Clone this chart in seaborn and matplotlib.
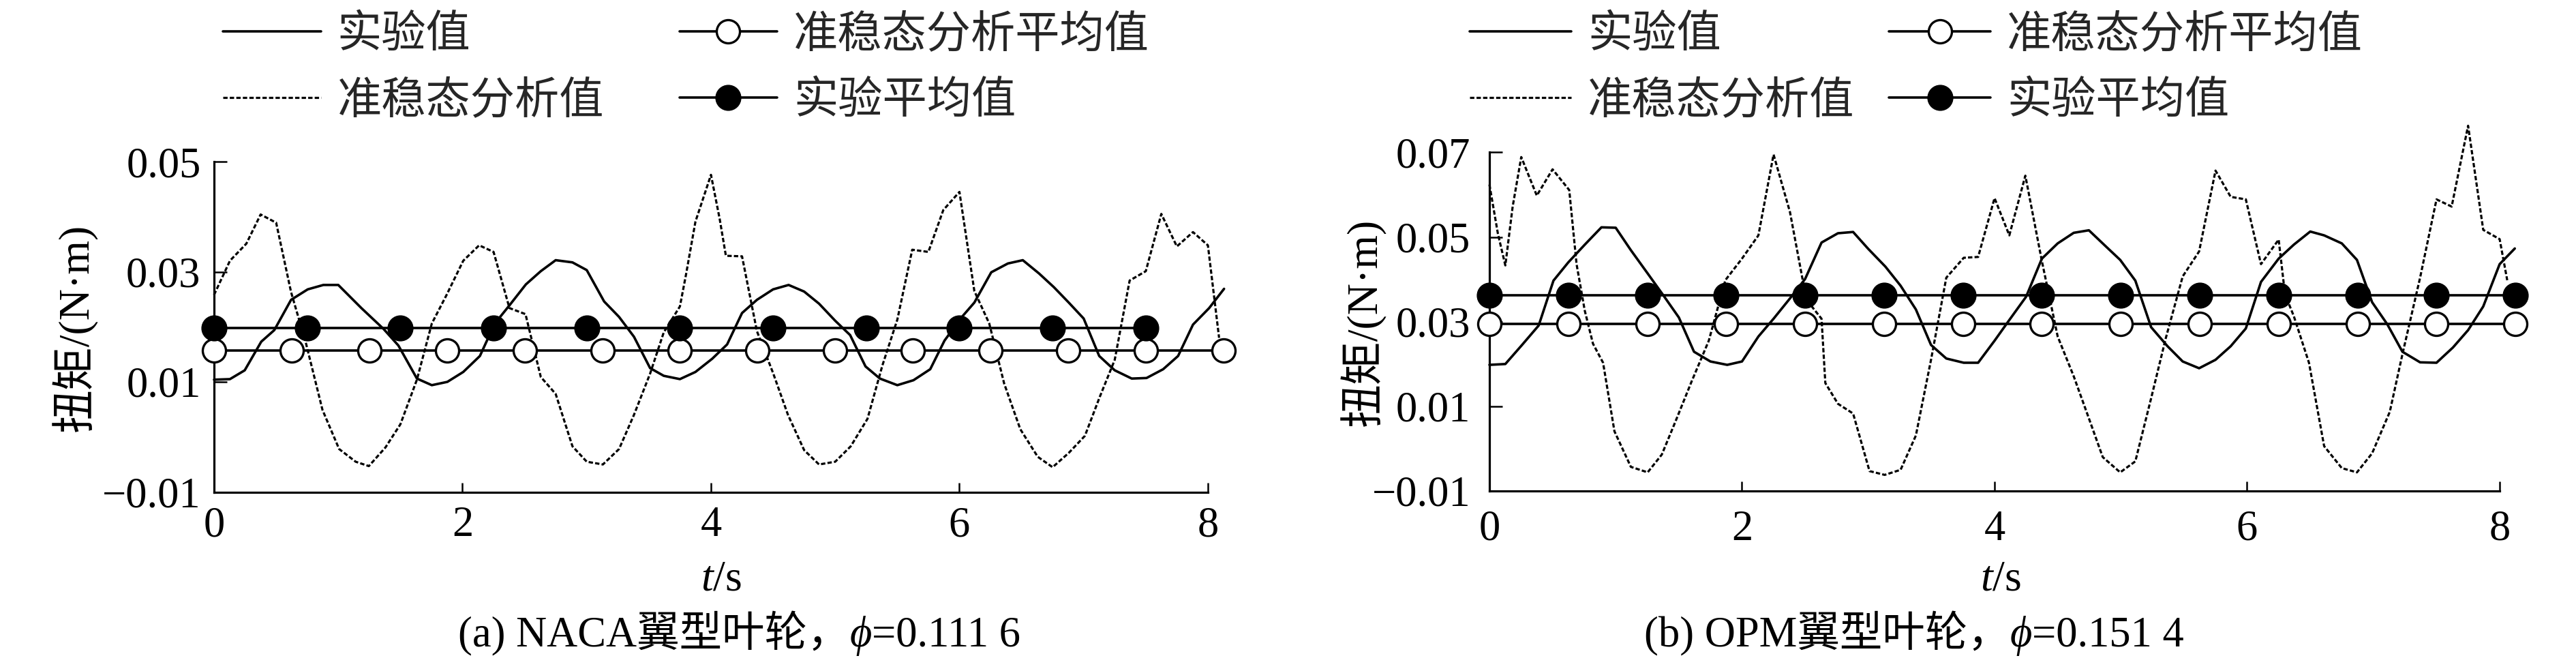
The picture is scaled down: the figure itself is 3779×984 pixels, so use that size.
import numpy as np
import matplotlib
matplotlib.use("Agg")
import matplotlib.pyplot as plt
import seaborn as sns

# ---------------- data ----------------
# (a) NACA impeller, experimental torque
naca_exp_t = [0, 0.128, 0.247, 0.38, 0.485, 0.62, 0.754, 0.88, 1.0, 1.186, 1.365, 1.484, 1.633,
              1.753, 1.878, 2.006, 2.14, 2.26, 2.378, 2.51, 2.63, 2.75, 2.885, 3.0, 3.14, 3.26,
              3.38, 3.51, 3.62, 3.75, 3.875, 4.01, 4.13, 4.25, 4.37, 4.5, 4.625, 4.75, 4.87, 5.0,
              5.12, 5.244, 5.36, 5.5, 5.63, 5.765, 5.88, 6.02, 6.12, 6.256, 6.39, 6.51, 6.64,
              6.76, 6.88, 7.0, 7.125, 7.25, 7.387, 7.506, 7.64, 7.76, 7.88, 8.01, 8.13]
naca_exp_y = [0.0104, 0.0105, 0.0121, 0.0173, 0.0194, 0.0249, 0.0268, 0.0276, 0.0276, 0.0234,
              0.0196, 0.0166, 0.0106, 0.0094, 0.0100, 0.0118, 0.0147, 0.0206, 0.0239, 0.0277,
              0.0301, 0.0321, 0.0317, 0.0303, 0.0246, 0.0218, 0.0182, 0.0125, 0.0111, 0.0105,
              0.0118, 0.0142, 0.0168, 0.0225, 0.0249, 0.0268, 0.0276, 0.0264, 0.0242, 0.0211,
              0.0185, 0.0128, 0.0106, 0.0094, 0.0103, 0.0123, 0.0175, 0.0218, 0.0244, 0.0299,
              0.0315, 0.0321, 0.0297, 0.0272, 0.0244, 0.0215, 0.0147, 0.0121, 0.0106, 0.0107,
              0.0123, 0.0147, 0.0204, 0.0234, 0.0269]
# (a) NACA impeller, quasi-steady analysis torque
naca_qs_t = [0, 0.128, 0.26, 0.375, 0.5, 0.62, 0.74, 0.873, 1.007, 1.14, 1.246, 1.38, 1.5, 1.633,
             1.753, 1.872, 2.006, 2.134, 2.25, 2.378, 2.507, 2.63, 2.75, 2.885, 3.0, 3.13, 3.26,
             3.38, 3.51, 3.62, 3.75, 3.80, 3.875, 4.0, 4.07, 4.12, 4.25, 4.37, 4.5, 4.62, 4.75,
             4.87, 5.0, 5.125, 5.26, 5.38, 5.5, 5.62, 5.75, 5.87, 6.0, 6.12, 6.24, 6.36, 6.49,
             6.63, 6.75, 6.88, 7.01, 7.13, 7.25, 7.37, 7.5, 7.625, 7.75, 7.88, 8.0, 8.09]
naca_qs_y = [0.0258, 0.0320, 0.0351, 0.0404, 0.0389, 0.0263, 0.0170, 0.0049, -0.0022, -0.0045,
             -0.0053, -0.0019, 0.0023, 0.0104, 0.0206, 0.0258, 0.0320, 0.0348, 0.0336, 0.0234,
             0.0223, 0.0109, 0.0078, -0.0017, -0.0045, -0.0050, -0.0022, 0.0040, 0.0115, 0.0190,
             0.0237, 0.0296, 0.0391, 0.0476, 0.0396, 0.0329, 0.0328, 0.0192, 0.0116, 0.0040,
             -0.0024, -0.0050, -0.0045, -0.0017, 0.0033, 0.0130, 0.0213, 0.0340, 0.0336, 0.0412,
             0.0445, 0.0265, 0.0206, 0.0097, 0.0014, -0.0036, -0.0055, -0.0029, 0.0002, 0.0073,
             0.0140, 0.0284, 0.0301, 0.0405, 0.0346, 0.0372, 0.0348, 0.0180]
naca_exp_mean = 0.0198
naca_qs_mean = 0.0157
naca_exp_mark_t = [0, 0.75, 1.5, 2.25, 3.0, 3.75, 4.5, 5.25, 6.0, 6.75, 7.5]
naca_qs_mark_t = [0, 0.625, 1.25, 1.875, 2.5, 3.125, 3.75, 4.375, 5.0, 5.625, 6.25, 6.875, 7.5, 8.125]

# (b) OPM impeller, experimental torque
opm_exp_t = [0, 0.126, 0.258, 0.39, 0.507, 0.624, 0.755, 0.887, 1.0, 1.12, 1.253, 1.385, 1.5,
             1.62, 1.75, 1.883, 2.0, 2.13, 2.25, 2.38, 2.5, 2.63, 2.76, 2.88, 3.0, 3.136, 3.256,
             3.377, 3.497, 3.618, 3.756, 3.87, 4.0, 4.117, 4.25, 4.375, 4.5, 4.627, 4.747, 4.874,
             4.995, 5.115, 5.24, 5.37, 5.49, 5.62, 5.75, 5.87, 5.99, 6.11, 6.25, 6.37, 6.5, 6.61,
             6.75, 6.87, 6.99, 7.11, 7.23, 7.37, 7.5, 7.63, 7.75, 7.87, 8.0, 8.12]
opm_exp_y = [0.0198, 0.0200, 0.0245, 0.0291, 0.0397, 0.0440, 0.0482, 0.0523, 0.0522, 0.0469,
             0.0414, 0.0359, 0.0310, 0.0229, 0.0206, 0.0198, 0.0206, 0.0265, 0.0307, 0.0355,
             0.0401, 0.0487, 0.0509, 0.0512, 0.0472, 0.0430, 0.0385, 0.0329, 0.0245, 0.0213,
             0.0203, 0.0203, 0.0255, 0.0304, 0.0359, 0.0449, 0.0485, 0.0510, 0.0516, 0.0480,
             0.0446, 0.0397, 0.0287, 0.0242, 0.0206, 0.0190, 0.0210, 0.0242, 0.0284, 0.0394,
             0.0449, 0.0482, 0.0513, 0.0504, 0.0485, 0.0446, 0.0346, 0.0294, 0.0229, 0.0204,
             0.0203, 0.0239, 0.0280, 0.0336, 0.0436, 0.0473]
# (b) OPM impeller, quasi-steady analysis torque
opm_qs_t = [0, 0.067, 0.126, 0.184, 0.252, 0.375, 0.5, 0.632, 0.69, 0.755, 0.82, 0.9, 0.99, 1.12,
            1.253, 1.365, 1.473, 1.6, 1.737, 1.868, 2.0, 2.13, 2.25, 2.38, 2.51, 2.63, 2.66, 2.76,
            2.88, 3.01, 3.13, 3.256, 3.377, 3.497, 3.618, 3.756, 3.87, 4.0, 4.117, 4.244, 4.375,
            4.5, 4.627, 4.737, 4.857, 4.995, 5.115, 5.24, 5.356, 5.49, 5.62, 5.75, 5.87, 5.99,
            6.11, 6.25, 6.30, 6.37, 6.49, 6.61, 6.75, 6.87, 6.99, 7.13, 7.23, 7.37, 7.5, 7.62,
            7.75, 7.87, 8.0, 8.06]
opm_qs_y = [0.0624, 0.0508, 0.0433, 0.0572, 0.0689, 0.0598, 0.0660, 0.0611, 0.0436, 0.0326,
            0.0248, 0.0203, 0.0041, -0.0043, -0.0056, -0.0014, 0.0064, 0.0158, 0.0255, 0.0398,
            0.0449, 0.0504, 0.0695, 0.0559, 0.0352, 0.0307, 0.0155, 0.0106, 0.0083, -0.0053,
            -0.0062, -0.0050, 0.0031, 0.0210, 0.0404, 0.0451, 0.0453, 0.0592, 0.0504, 0.0645,
            0.0443, 0.0265, 0.0171, 0.0080, -0.0020, -0.0056, -0.0030, 0.0119, 0.0261, 0.0407,
            0.0466, 0.0657, 0.0595, 0.0589, 0.0436, 0.0494, 0.0365, 0.0313, 0.0203, 0.0006,
            -0.0046, -0.0056, -0.0011, 0.0087, 0.0223, 0.0404, 0.0589, 0.0572, 0.0763, 0.0517,
            0.0495, 0.0398]
opm_exp_mean = 0.0362
opm_qs_mean = 0.0294
opm_exp_mark_t = [0, 0.625, 1.25, 1.875, 2.5, 3.125, 3.75, 4.375, 5.0, 5.625, 6.25, 6.875, 7.5, 8.125]
opm_qs_mark_t = [0, 0.625, 1.25, 1.875, 2.5, 3.125, 3.75, 4.375, 5.0, 5.625, 6.25, 6.875, 7.5, 8.125]

# ticks / text
x_ticks = [0, 2, 4, 6, 8]
x_ticklabels = ["0", "2", "4", "6", "8"]
naca_yticks = [-0.01, 0.01, 0.03, 0.05]
naca_yticklabels = ["\u22120.01", "0.01", "0.03", "0.05"]
opm_yticks = [-0.01, 0.01, 0.03, 0.05, 0.07]
opm_yticklabels = ["\u22120.01", "0.01", "0.03", "0.05", "0.07"]
legend_labels = ["实验值", "准稳态分析值", "准稳态分析平均值", "实验平均值"]
ylabel_text = "扭矩/(N·m)"
xlabel_text = "$t$/s"
caption_a = ("(a) NACA翼型叶轮，", "ϕ", "=0.111 6")
caption_b = ("(b) OPM翼型叶轮，", "ϕ", "=0.151 4")

# ---------------- style ----------------
sns.set_theme(style="ticks")
plt.rcParams['font.family'] = ['Liberation Serif', 'Noto Sans CJK SC', 'DejaVu Serif']
plt.rcParams['mathtext.fontset'] = 'custom'
plt.rcParams['mathtext.rm'] = 'Liberation Serif'
plt.rcParams['mathtext.it'] = 'Liberation Serif:italic'
plt.rcParams['axes.unicode_minus'] = True

W, H = 3780, 984
fig = plt.figure(figsize=(W / 100, H / 100), dpi=100)
fig.patch.set_facecolor('white')

TICK_FS = 45
LEG_FS = 47


def fx(px):
    return px / W


def fy(py):
    return 1 - py / H


def draw_panel(ax, exp_t, exp_y, qs_t, qs_y, exp_mt, exp_m, qs_mt, qs_m,
               yticks, yticklabels, ylim, xpad, ypad):
    sns.lineplot(x=exp_t, y=exp_y, ax=ax, color='black', linewidth=2.6, estimator=None,
                 sort=False, legend=False, label=legend_labels[0], clip_on=False, zorder=3)
    sns.lineplot(x=qs_t, y=qs_y, ax=ax, color='black', linewidth=2.3, estimator=None,
                 sort=False, legend=False, label=legend_labels[1], clip_on=False, zorder=3,
                 linestyle=(0, (2.0, 1.0)))
    sns.lineplot(x=qs_mt, y=[qs_m] * len(qs_mt), ax=ax, color='black', linewidth=2.6,
                 estimator=None, sort=False, legend=False, label=legend_labels[2],
                 marker='o', markersize=24.5, markerfacecolor='white',
                 markeredgecolor='black', markeredgewidth=2.4, clip_on=False, zorder=4)
    sns.lineplot(x=exp_mt, y=[exp_m] * len(exp_mt), ax=ax, color='black', linewidth=2.6,
                 estimator=None, sort=False, legend=False, label=legend_labels[3],
                 marker='o', markersize=26.5, markerfacecolor='black',
                 markeredgecolor='black', markeredgewidth=1.0, clip_on=False, zorder=5)
    ax.set_xlim(0, 8)
    ax.set_ylim(*ylim)
    ax.set_xticks(x_ticks)
    ax.set_xticklabels(x_ticklabels)
    ax.set_yticks(yticks)
    ax.set_yticklabels(yticklabels)
    ax.set_xlabel("")
    ax.set_ylabel("")
    sns.despine(ax=ax)
    for s in ['left', 'bottom']:
        ax.spines[s].set_linewidth(2.3)
        ax.spines[s].set_color('black')
    ax.tick_params(axis='x', direction='in', length=10, width=1.8, labelsize=TICK_FS,
                   pad=xpad, colors='black')
    ax.tick_params(axis='y', direction='in', length=14, width=1.8, labelsize=TICK_FS,
                   pad=ypad, colors='black')
    ax.set_facecolor('white')
    ax.grid(False)


ax1 = fig.add_axes([fx(314), fy(721.5), fx(1772 - 314), (721.5 - 237) / H])
ax2 = fig.add_axes([fx(2185), fy(720), fx(3667 - 2185), (720 - 223.5) / H])

draw_panel(ax1, naca_exp_t, naca_exp_y, naca_qs_t, naca_qs_y,
           naca_exp_mark_t, naca_exp_mean, naca_qs_mark_t, naca_qs_mean,
           naca_yticks, naca_yticklabels, (-0.01, 0.05), 15, 14)
draw_panel(ax2, opm_exp_t, opm_exp_y, opm_qs_t, opm_qs_y,
           opm_exp_mark_t, opm_exp_mean, opm_qs_mark_t, opm_qs_mean,
           opm_yticks, opm_yticklabels, (-0.01, 0.07), 20, 20)

# legends
for ax, lx, hl, cs in [(ax1, 327, 2.2, 1.69), (ax2, 2156, 2.28, 0.78)]:
    handles = ax.get_lines()[:4]
    ax.legend(handles, legend_labels, ncol=2, loc='upper left',
              bbox_to_anchor=(fx(lx), fy(22)), bbox_transform=fig.transFigure,
              frameon=False, borderpad=0, borderaxespad=0, handlelength=hl,
              handletextpad=0.37, columnspacing=cs, labelspacing=0.55, numpoints=1,
              prop={'size': LEG_FS})

# y labels
fig.text(fx(110), fy(480), ylabel_text, rotation=90, ha='center', va='center',
         fontsize=46, color='black')
fig.text(fx(2000), fy(472), ylabel_text, rotation=90, ha='center', va='center',
         fontsize=46, color='black')

# x labels
fig.text(fx(1058), fy(850), xlabel_text, ha='center', va='center', fontsize=46, color='black')
fig.text(fx(2935), fy(850), xlabel_text, ha='center', va='center', fontsize=46, color='black')

# captions (italic phi in the middle)
for ax, x0, parts in [(ax1, 672, caption_a), (ax2, 2412, caption_b)]:
    t1 = fig.text(fx(x0), fy(948), parts[0], ha='left', va='baseline', fontsize=45,
                  color='black')
    t2 = ax.annotate(parts[1], xy=(1, 0), xycoords=t1, ha='left', va='bottom',
                     fontsize=45, style='italic', color='black',
                     family=['Liberation Serif', 'DejaVu Serif'])
    ax.annotate(parts[2], xy=(1, 0), xycoords=t2, ha='left', va='bottom', fontsize=45,
                color='black')

fig.savefig("out.png", dpi=100, facecolor='white')
